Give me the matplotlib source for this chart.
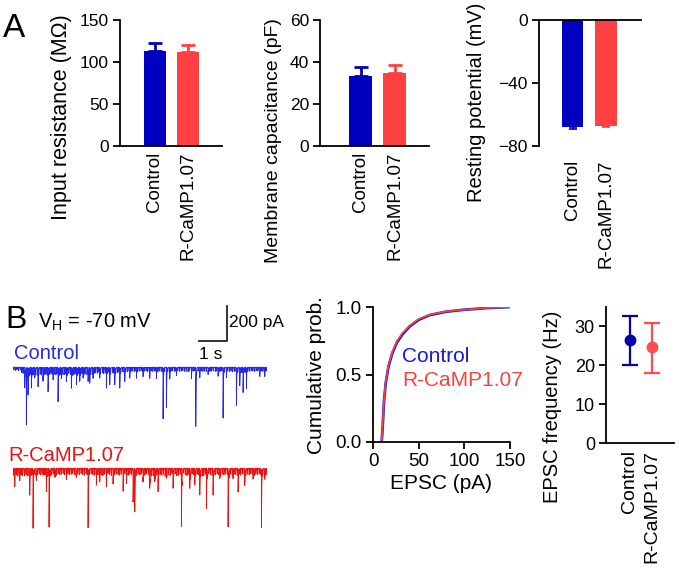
import numpy as np
import matplotlib
matplotlib.use("Agg")
import matplotlib.pyplot as plt

plt.rcParams['font.family'] = ['Liberation Sans', 'DejaVu Sans']

W, H = 679, 571
BLUE = "#0000c0"
RED = "#ff4040"
TR_BLUE = "#2626ee"
TR_RED = "#f01010"

groups = ["Control", "R-CaMP1.07"]
# Panel A
rin_mean = [113, 112]
rin_sem = [10, 8]
cm_mean = [33.5, 35]
cm_sem = [4.3, 3.5]
vrest_mean = [-68, -67.5]
vrest_sem = [1.0, 0.4]

# Panel B traces: event times (s) and amplitudes (pA)
ctrl_t = [0.417, 0.476, 0.536, 0.655, 0.774, 0.893, 1.071, 1.25, 1.43, 1.607, 1.726, 1.905,
          2.083, 2.262, 2.381, 2.5, 2.679, 2.738, 2.857, 3.095, 3.333, 3.452, 3.631, 3.81,
          3.988, 4.167, 4.405, 4.643, 4.881, 5.119, 5.357, 5.476, 5.595, 5.833, 6.369,
          6.524, 6.667, 6.964, 7.321, 7.5, 7.619, 7.976, 8.095, 8.214, 8.333, 8.81, 8.988]
ctrl_a = [118, 328, 156, 118, 61, 109, 80, 137, 70, 194, 61, 80,
          118, 99, 80, 61, 80, 90, 61, 61, 118, 99, 99, 118,
          80, 61, 61, 51, 61, 61, 290, 232, 61, 42, 42,
          337, 61, 42, 51, 290, 61, 213, 99, 137, 118, 42, 42]
ctrl_small_t = [0.03, 0.09, 0.14, 0.2, 0.27, 0.31, 0.36, 0.44, 0.5, 0.57,
                0.62, 0.68, 0.72, 0.8, 0.86, 0.91, 0.97, 1.02, 1.08, 1.13,
                1.17, 1.22, 1.29, 1.35, 1.4, 1.47, 1.53, 1.58, 1.64, 1.7,
                1.76, 1.82, 1.87, 1.93, 1.99, 2.05, 2.11, 2.17, 2.22, 2.29,
                2.34, 2.41, 2.46, 2.53, 2.58, 2.64, 2.7, 2.77, 2.83, 2.89,
                2.95, 3.01, 3.06, 3.12, 3.19, 3.24, 3.3, 3.37, 3.42, 3.48,
                3.55, 3.6, 3.66, 3.72, 3.77, 3.84, 3.9, 3.96, 4.02, 4.08,
                4.14, 4.21, 4.27, 4.33, 4.38, 4.45, 4.51, 4.57, 4.62, 4.69,
                4.75, 4.8, 4.86, 4.93, 4.99, 5.05, 5.1, 5.17, 5.23, 5.29,
                5.34, 5.41, 5.52, 5.58, 5.64, 5.7, 5.77, 5.82, 5.88, 5.95,
                6.01, 6.06, 6.13, 6.19, 6.25, 6.3, 6.37, 6.43, 6.49, 6.55,
                6.61, 6.72, 6.78, 6.84, 6.9, 6.98, 7.03, 7.09, 7.15, 7.22,
                7.27, 7.34, 7.39, 7.45, 7.55, 7.66, 7.72, 7.78, 7.84, 7.9,
                7.96, 8.02, 8.08, 8.14, 8.2, 8.26, 8.31, 8.38, 8.44, 8.5,
                8.56, 8.62, 8.68, 8.74, 8.8, 8.86, 8.92, 8.98, 9.04]
ctrl_small_a = [15, 18, 14, 20, 16, 30, 35, 40, 38, 45,
                40, 35, 42, 38, 45, 36, 40, 44, 35, 42,
                38, 45, 40, 36, 42, 38, 44, 36, 40, 42,
                38, 44, 36, 40, 35, 42, 38, 44, 36, 40,
                38, 42, 36, 40, 35, 42, 38, 36, 40, 34,
                30, 34, 28, 32, 30, 36, 30, 34, 28, 32,
                30, 34, 28, 32, 26, 30, 24, 28, 22, 26,
                20, 24, 22, 26, 20, 24, 22, 20, 24, 22,
                20, 24, 22, 20, 24, 22, 20, 26, 22, 24,
                22, 24, 20, 26, 22, 20, 24, 22, 20, 24,
                22, 20, 24, 22, 26, 20, 24, 22, 20, 24,
                22, 20, 24, 22, 26, 20, 24, 22, 20, 24,
                22, 20, 24, 22, 26, 20, 24, 22, 26, 24,
                22, 26, 24, 30, 28, 26, 30, 24, 22, 20,
                22, 24, 20, 22, 26, 20, 24, 22, 20]

rcamp_t = [0.06, 0.238, 0.417, 0.595, 0.714, 0.833, 1.19, 1.286, 1.488, 1.905, 2.262, 2.679,
           2.976, 3.095, 3.333, 3.571, 3.929, 4.048, 4.286, 4.345, 4.643, 4.881, 5.06,
           5.179, 5.476, 5.714, 6.012, 6.31, 6.488, 6.667, 6.905, 7.143, 7.381, 7.679,
           7.857, 8.036, 8.274, 8.571, 8.869, 8.988]
rcamp_a = [76, 57, 38, 133, 333, 57, 133, 333, 48, 38, 38, 333,
           76, 57, 76, 57, 95, 57, 190, 248, 76, 114, 76,
           133, 57, 114, 333, 114, 95, 152, 229, 152, 57, 333,
           57, 133, 95, 57, 333, 57]
rcamp_small_t = [0.01, 0.06, 0.12, 0.17, 0.23, 0.29, 0.34, 0.4, 0.47, 0.53,
                 0.59, 0.65, 0.7, 0.76, 0.82, 0.88, 0.94, 0.99, 1.05, 1.1,
                 1.15, 1.21, 1.26, 1.32, 1.38, 1.44, 1.5, 1.55, 1.61, 1.67,
                 1.73, 1.79, 1.84, 1.9, 1.96, 2.02, 2.08, 2.13, 2.19, 2.25,
                 2.31, 2.37, 2.43, 2.49, 2.55, 2.61, 2.66, 2.73, 2.79, 2.85,
                 2.91, 2.97, 3.03, 3.09, 3.15, 3.21, 3.27, 3.33, 3.39, 3.45,
                 3.51, 3.57, 3.63, 3.69, 3.75, 3.81, 3.87, 3.93, 3.99, 4.05,
                 4.11, 4.17, 4.23, 4.29, 4.35, 4.41, 4.47, 4.53, 4.59, 4.65,
                 4.71, 4.77, 4.83, 4.89, 4.95, 5.01, 5.07, 5.13, 5.19, 5.25,
                 5.31, 5.37, 5.43, 5.49, 5.55, 5.61, 5.67, 5.73, 5.79, 5.85,
                 5.91, 5.97, 6.03, 6.09, 6.15, 6.21, 6.27, 6.33, 6.39, 6.45,
                 6.51, 6.57, 6.63, 6.69, 6.75, 6.81, 6.87, 6.93, 6.99, 7.05,
                 7.11, 7.17, 7.23, 7.29, 7.35, 7.41, 7.47, 7.53, 7.59, 7.65,
                 7.71, 7.77, 7.83, 7.89, 7.95, 8.01, 8.07, 8.13, 8.19, 8.25,
                 8.31, 8.37, 8.43, 8.49, 8.55, 8.61, 8.67, 8.73, 8.79, 8.85,
                 8.91, 8.97, 9.03]
rcamp_small_a = [40, 30, 35, 45, 30, 38, 42, 30, 36, 44,
                 32, 40, 35, 30, 42, 36, 30, 38, 34, 40,
                 36, 30, 42, 34, 38, 30, 36, 40, 32, 38,
                 34, 30, 36, 40, 32, 38, 34, 30, 36, 42,
                 34, 38, 30, 36, 40, 32, 38, 34, 30, 36,
                 40, 34, 38, 32, 36, 42, 34, 38, 30, 36,
                 42, 34, 38, 32, 36, 40, 34, 38, 32, 36,
                 40, 34, 38, 45, 36, 40, 34, 38, 32, 36,
                 40, 30, 38, 32, 44, 42, 30, 38, 32, 36,
                 40, 34, 46, 32, 36, 42, 30, 38, 32, 44,
                 40, 34, 38, 28, 36, 42, 34, 46, 32, 36,
                 30, 34, 38, 32, 44, 42, 34, 38, 32, 36,
                 40, 28, 38, 32, 36, 42, 34, 38, 30, 36,
                 40, 34, 44, 32, 36, 42, 30, 38, 32, 36,
                 40, 34, 38, 32, 36, 42, 34, 38, 32, 36,
                 40, 34, 38]

# Cumulative distribution of EPSC amplitudes
cdf_amp = [9.5, 10.5, 12, 14, 17, 21, 26, 32, 40, 50, 62, 80, 100, 125, 150]
cdf_ctrl = [0.0, 0.10, 0.30, 0.44, 0.56, 0.655, 0.735, 0.795, 0.855, 0.905, 0.94, 0.965, 0.98, 0.992, 1.0]
cdf_rcamp = [0.0, 0.11, 0.31, 0.45, 0.57, 0.665, 0.745, 0.805, 0.862, 0.91, 0.943, 0.967, 0.981, 0.993, 1.0]

# EPSC frequency
freq_mean = [26.4, 24.6]
freq_lo = [20.0, 18.1]
freq_hi = [32.7, 30.8]


def px_axes(fig, x0, x1, y0, y1):
    return fig.add_axes([x0 / W, 1 - y1 / H, (x1 - x0) / W, (y1 - y0) / H])


def ylabel_at(fig, text, xc, yc, fs):
    fig.text(xc / W, 1 - yc / H, text, rotation=90, ha='center', va='center', fontsize=fs)


fig = plt.figure(figsize=(W / 100, H / 100), dpi=100)


def style(ax, tick_fs=12.5):
    ax.spines['top'].set_visible(False)
    ax.spines['right'].set_visible(False)
    for s in ax.spines.values():
        s.set_linewidth(1.3)
    ax.tick_params(axis='y', direction='out', length=5, width=1.3, labelsize=tick_fs, pad=3)
    ax.tick_params(axis='x', length=0, labelsize=13.5, pad=4)


x = np.arange(2)

# A1
ax = px_axes(fig, 120, 222, 20, 146)
for i in range(2):
    c = [BLUE, RED][i]
    ax.bar(x[i], rin_mean[i], width=0.66, color=c,
           yerr=[[0], [rin_sem[i]]], error_kw=dict(ecolor=c, capsize=5, elinewidth=2, capthick=2))
ax.set_xlim(-1.06, 2.03)
ax.set_ylim(0, 150)
ax.set_yticks([0, 50, 100, 150])
ax.set_xticks(x)
ax.set_xticklabels(groups, rotation=90)
style(ax)
ylabel_at(fig, "Input resistance (MΩ)", 61, 117, 15.5)

# A2
ax = px_axes(fig, 320, 429, 20, 146)
for i in range(2):
    c = [BLUE, RED][i]
    ax.bar(x[i], cm_mean[i], width=0.68, color=c,
           yerr=[[0], [cm_sem[i]]], error_kw=dict(ecolor=c, capsize=5, elinewidth=2, capthick=2))
ax.set_xlim(-1.19, 2.01)
ax.set_ylim(0, 60)
ax.set_yticks([0, 20, 40, 60])
ax.set_xticks(x)
ax.set_xticklabels(groups, rotation=90)
style(ax)
ylabel_at(fig, "Membrane capacitance (pF)", 273, 141, 14)

# A3
ax = px_axes(fig, 539, 641, 20, 146)
for i in range(2):
    c = [BLUE, RED][i]
    ax.bar(x[i], vrest_mean[i], width=0.64, color=c,
           yerr=[[vrest_sem[i]], [0]], error_kw=dict(ecolor=c, capsize=3, elinewidth=1.2, capthick=1.2))
ax.set_xlim(-1.0, 2.04)
ax.set_ylim(-80, 0)
ax.set_yticks([-80, -40, 0])
ax.set_xticks(x)
ax.set_xticklabels(groups, rotation=90)
style(ax)
ax.spines['top'].set_visible(True)
ax.spines['bottom'].set_visible(False)
ax.tick_params(axis='x', pad=10)
ylabel_at(fig, "Resting potential (mV)", 477, 102, 14.5)

# B1 traces
fs_hz = 2000
t = np.arange(0, 9.07, 1 / fs_hz)
_d = np.arange(0, 0.2, 1 / fs_hz)
_k = (1 - np.exp(-_d / 0.0008)) * np.exp(-_d / 0.010)
_k = _k / _k.max()


def build(tt, aa):
    y = np.zeros_like(t)
    for t0, a in zip(tt, aa):
        i0 = int(round(t0 * fs_hz))
        n = min(len(_k), len(t) - i0)
        y[i0:i0 + n] -= a * _k[:n]
    return y


ctrl_trace = build(ctrl_t + ctrl_small_t, ctrl_a + ctrl_small_a)
rcamp_trace = build(rcamp_t + rcamp_small_t, rcamp_a + rcamp_small_a)
OFFSET = -577
ax = px_axes(fig, 13, 267, 300, 540)
ax.plot(t, ctrl_trace + 10, color=TR_BLUE, lw=0.65)
ax.plot(t, rcamp_trace + OFFSET + 10, color=TR_RED, lw=0.65)
ax.set_xlim(0, 9.07)
ax.set_ylim(-977, 394)
ax.axis('off')
ax.plot([6.64, 7.64, 7.64], [160, 160, 360], color='#222222', lw=1.3, clip_on=False)

fig.text(5 / W, 1 - 328 / H, "B", fontsize=23, va='baseline')
fig.text(3 / W, 1 - 37 / H, "A", fontsize=24, va='baseline')
fig.text(38 / W, 1 - 328 / H, r"V$_\mathregular{H}$ = -70 mV", fontsize=14.5, va='baseline')
fig.text(229 / W, 1 - 327 / H, "200 pA", fontsize=12.5, va='baseline')
fig.text(199 / W, 1 - 359 / H, "1 s", fontsize=12.5, va='baseline')
fig.text(14 / W, 1 - 359 / H, "Control", fontsize=14.5, color=TR_BLUE, va='baseline')
fig.text(8 / W, 1 - 461 / H, "R-CaMP1.07", fontsize=14.5, color=TR_RED, va='baseline')

# B2 cumulative
ax = px_axes(fig, 373, 510, 307, 442)
ax.plot(cdf_amp, cdf_ctrl, color="#1a1ad0", lw=2)
ax.plot(cdf_amp, cdf_rcamp, color=RED, lw=1.2)
ax.set_xlim(0, 150)
ax.set_ylim(0, 1)
ax.set_xticks([0, 50, 100, 150])
ax.set_yticks([0, 0.5, 1.0])
ax.set_yticklabels(["0.0", "0.5", "1.0"])
style(ax, tick_fs=13.5)
ax.tick_params(axis='x', direction='out', length=5, width=1.3, labelsize=13.5, pad=3)
ax.set_xlabel("EPSC (pA)", fontsize=15, labelpad=3)
ylabel_at(fig, "Cumulative prob.", 317, 375, 15)
fig.text(402 / W, 1 - 357 / H, "Control", fontsize=15, color="#1a1ad0", va='center')
fig.text(402 / W, 1 - 380 / H, "R-CaMP1.07", fontsize=15, color=RED, va='center')

# B3 frequency
ax = px_axes(fig, 606, 674, 307, 443)
for i in range(2):
    c = ["#0000b0", "#ff4d4d"][i]
    ax.errorbar([x[i]], [freq_mean[i]],
                yerr=[[freq_mean[i] - freq_lo[i]], [freq_hi[i] - freq_mean[i]]],
                fmt='o', color=c, ms=7.5, capsize=6, elinewidth=1.6, capthick=1.6)
ax.set_xlim(-1.09, 2.0)
ax.set_ylim(0, 35)
ax.set_yticks([0, 10, 20, 30])
ax.set_xticks(x)
ax.set_xticklabels(groups, rotation=90)
style(ax, tick_fs=13)
ax.tick_params(axis='x', labelsize=14, pad=5)
ylabel_at(fig, "EPSC frequency (Hz)", 553, 407, 14.5)

fig.savefig("out.png", dpi=100)
